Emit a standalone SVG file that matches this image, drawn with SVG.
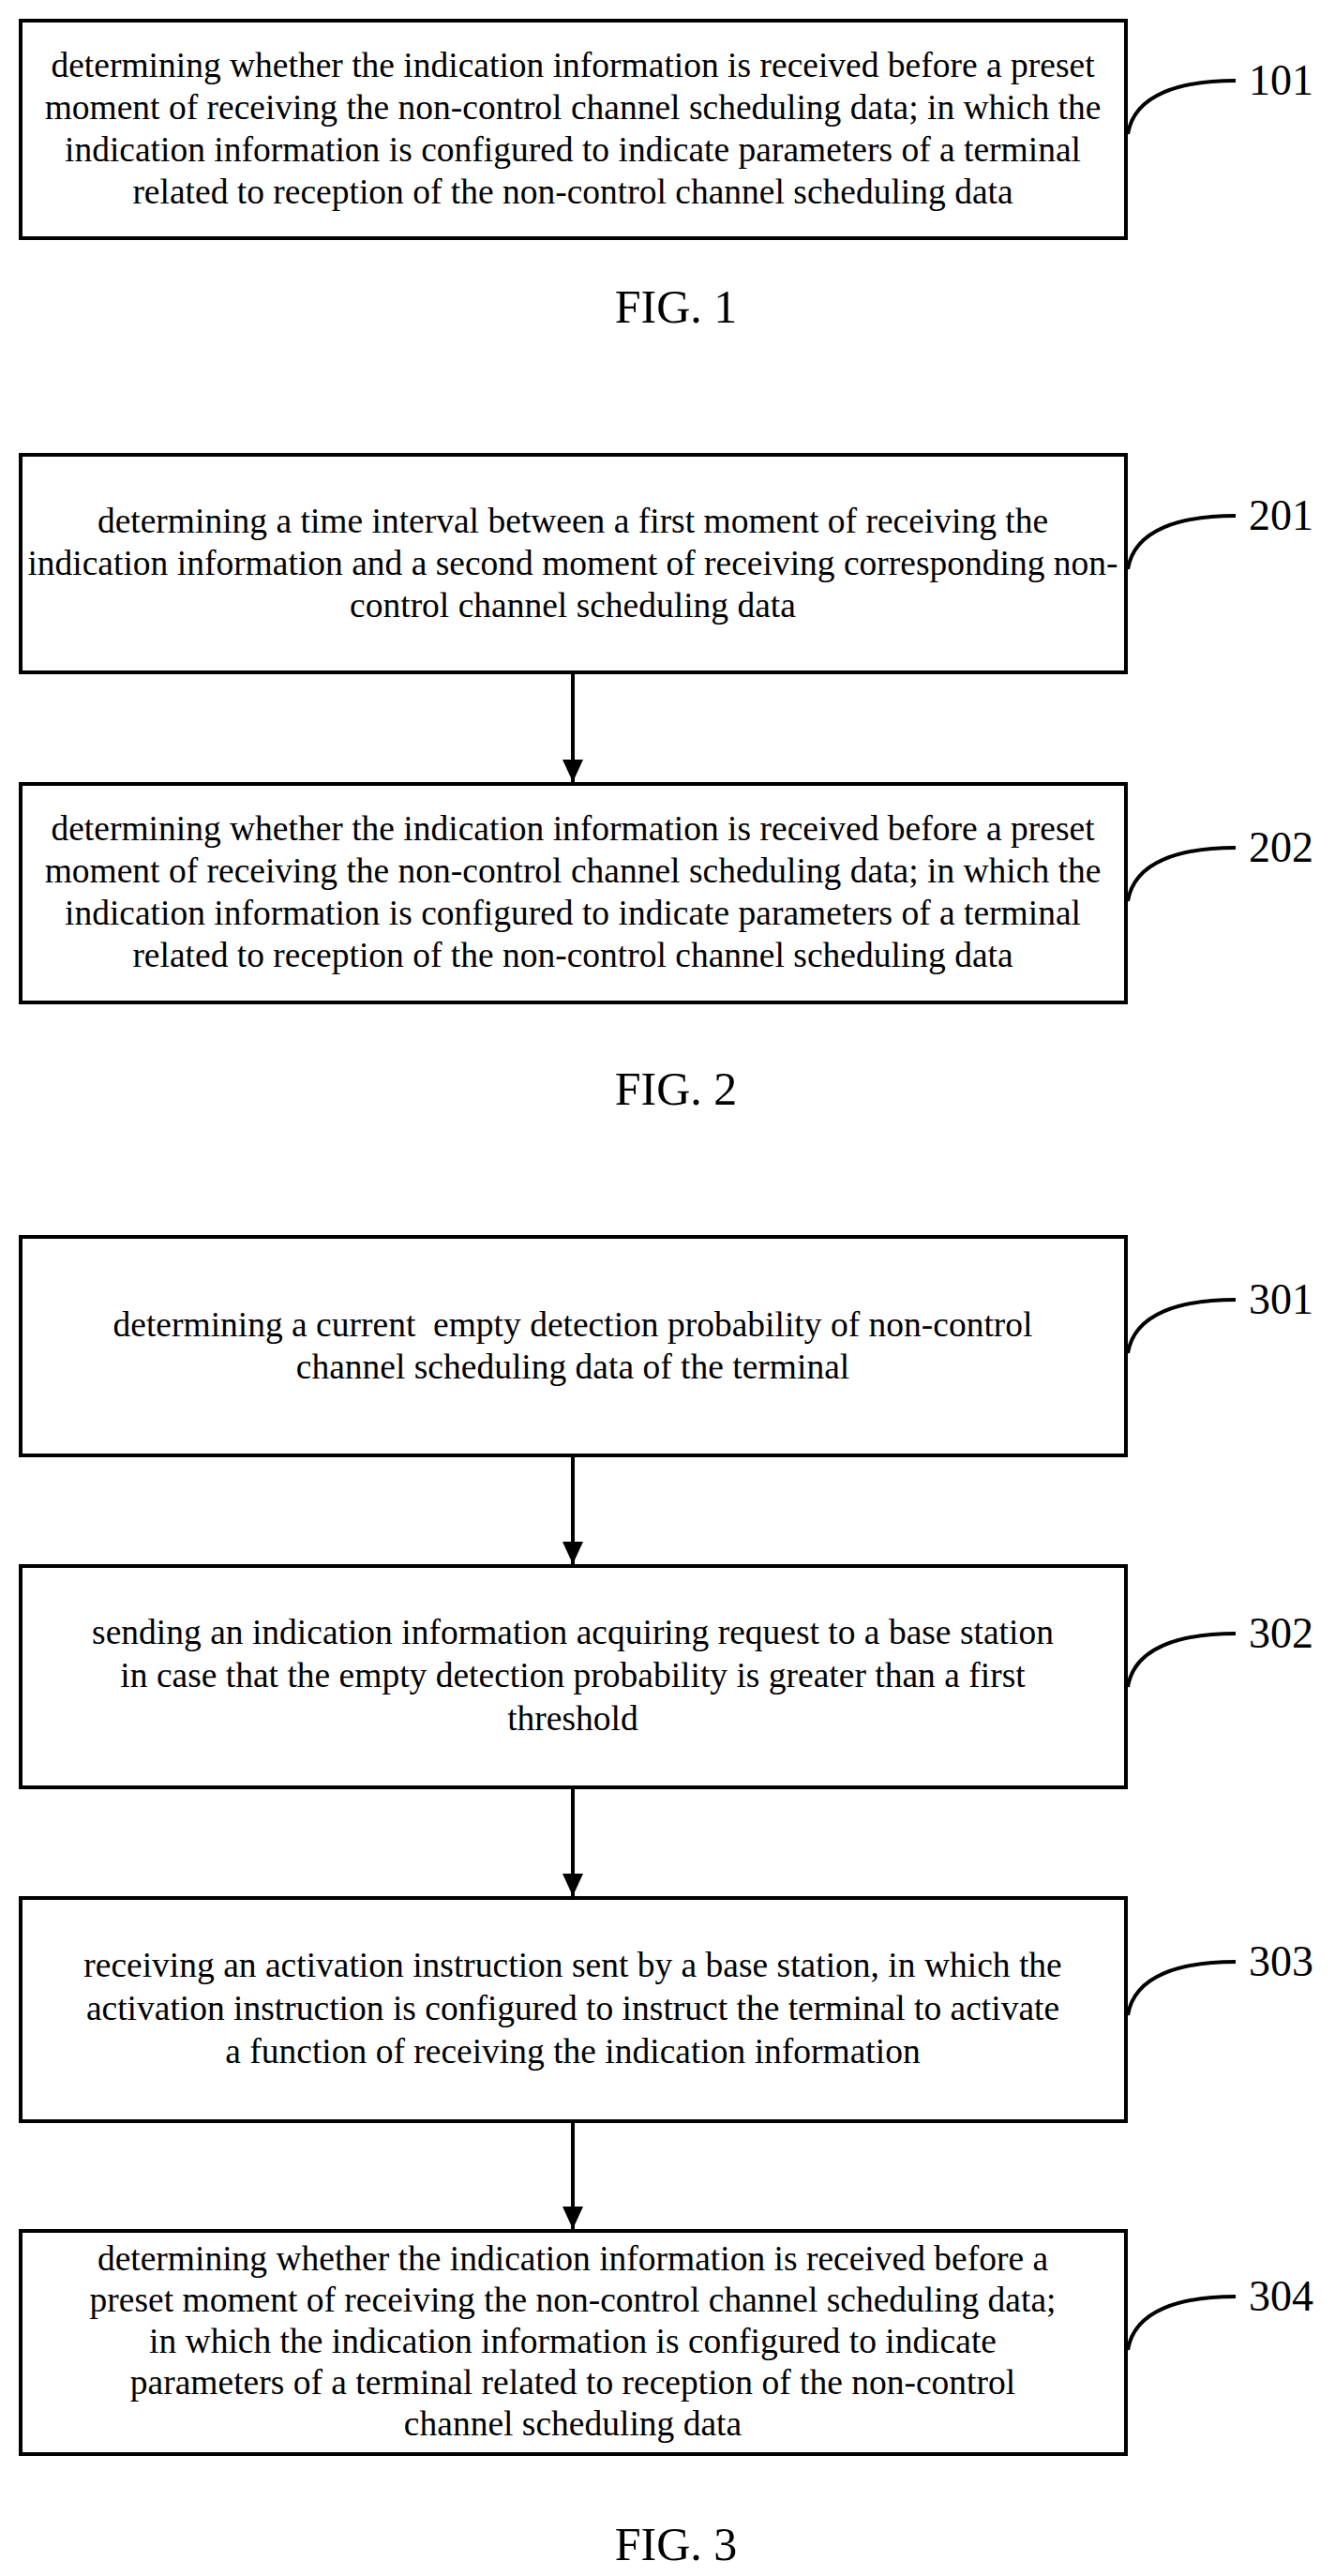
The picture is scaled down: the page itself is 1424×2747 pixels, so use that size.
<svg xmlns="http://www.w3.org/2000/svg" width="1424" height="2747" viewBox="0 0 1424 2747">
<style>
.box{fill:#fff;stroke:#000;stroke-width:4}
.t{font-family:"Liberation Serif","Times New Roman",serif;font-size:37.5px;text-anchor:middle;fill:#000;white-space:pre}
.lbl{font-family:"Liberation Serif","Times New Roman",serif;font-size:46px;fill:#000}
.fig{font-family:"Liberation Serif","Times New Roman",serif;font-size:50px;text-anchor:middle;fill:#000}
.lead{fill:none;stroke:#000;stroke-width:4}
.arr{stroke:#000;stroke-width:4;fill:none}
</style>
<defs><marker id="ah" markerWidth="24" markerHeight="22" refX="24" refY="11" orient="auto" markerUnits="userSpaceOnUse" viewBox="0 0 24 22"><path d="M0,0 L24,11 L0,22 z" fill="#000"/></marker></defs>
<rect width="1424" height="2747" fill="#fff"/>
<g id="n101">
<rect class="box" x="22" y="22" width="1179" height="232"/>
<text class="t" x="611" y="82">determining whether the indication information is received before a preset</text>
<text class="t" x="611" y="127">moment of receiving the non-control channel scheduling data; in which the</text>
<text class="t" x="611" y="172">indication information is configured to indicate parameters of a terminal</text>
<text class="t" x="611" y="217">related to reception of the non-control channel scheduling data</text>
<path class="lead" d="M1203,143 C1210,100 1260,86 1318,86"/>
<text class="lbl" x="1332" y="101">101</text>
</g>
<text class="fig" x="721" y="344">FIG. 1</text>
<g id="n201">
<rect class="box" x="22" y="485" width="1179" height="232"/>
<text class="t" x="611" y="568">determining a time interval between a first moment of receiving the</text>
<text class="t" x="611" y="613">indication information and a second moment of receiving corresponding non-</text>
<text class="t" x="611" y="658">control channel scheduling data</text>
<path class="lead" d="M1203,607 C1210,564 1260,550 1318,550"/>
<text class="lbl" x="1332" y="565">201</text>
</g>
<g id="n202">
<rect class="box" x="22" y="836" width="1179" height="233"/>
<text class="t" x="611" y="896">determining whether the indication information is received before a preset</text>
<text class="t" x="611" y="941">moment of receiving the non-control channel scheduling data; in which the</text>
<text class="t" x="611" y="986">indication information is configured to indicate parameters of a terminal</text>
<text class="t" x="611" y="1031">related to reception of the non-control channel scheduling data</text>
<path class="lead" d="M1203,961 C1210,918 1260,904 1318,904"/>
<text class="lbl" x="1332" y="919">202</text>
</g>
<text class="fig" x="721" y="1178">FIG. 2</text>
<g id="n301">
<rect class="box" x="22" y="1319" width="1179" height="233"/>
<text class="t" x="611" y="1425" xml:space="preserve">determining a current  empty detection probability of non-control</text>
<text class="t" x="611" y="1470">channel scheduling data of the terminal</text>
<path class="lead" d="M1203,1443 C1210,1400 1260,1386 1318,1386"/>
<text class="lbl" x="1332" y="1401">301</text>
</g>
<g id="n302">
<rect class="box" x="22" y="1670" width="1179" height="236"/>
<text class="t" x="611" y="1753">sending an indication information acquiring request to a base station</text>
<text class="t" x="611" y="1799">in case that the empty detection probability is greater than a first</text>
<text class="t" x="611" y="1845">threshold</text>
<path class="lead" d="M1203,1799 C1210,1756 1260,1742 1318,1742"/>
<text class="lbl" x="1332" y="1757">302</text>
</g>
<g id="n303">
<rect class="box" x="22" y="2024" width="1179" height="238"/>
<text class="t" x="611" y="2108">receiving an activation instruction sent by a base station, in which the</text>
<text class="t" x="611" y="2154">activation instruction is configured to instruct the terminal to activate</text>
<text class="t" x="611" y="2200">a function of receiving the indication information</text>
<path class="lead" d="M1203,2149 C1210,2106 1260,2092 1318,2092"/>
<text class="lbl" x="1332" y="2107">303</text>
</g>
<g id="n304">
<rect class="box" x="22" y="2379" width="1179" height="238"/>
<text class="t" x="611" y="2421">determining whether the indication information is received before a</text>
<text class="t" x="611" y="2465">preset moment of receiving the non-control channel scheduling data;</text>
<text class="t" x="611" y="2509">in which the indication information is configured to indicate</text>
<text class="t" x="611" y="2553">parameters of a terminal related to reception of the non-control</text>
<text class="t" x="611" y="2597">channel scheduling data</text>
<path class="lead" d="M1203,2506 C1210,2463 1260,2449 1318,2449"/>
<text class="lbl" x="1332" y="2464">304</text>
</g>
<text class="fig" x="721" y="2730">FIG. 3</text>
<g id="connectors">
<path class="arr" d="M611,717 V834" marker-end="url(#ah)"/>
<path class="arr" d="M611,1552 V1668" marker-end="url(#ah)"/>
<path class="arr" d="M611,1906 V2022" marker-end="url(#ah)"/>
<path class="arr" d="M611,2262 V2377" marker-end="url(#ah)"/>
</g>
</svg>
